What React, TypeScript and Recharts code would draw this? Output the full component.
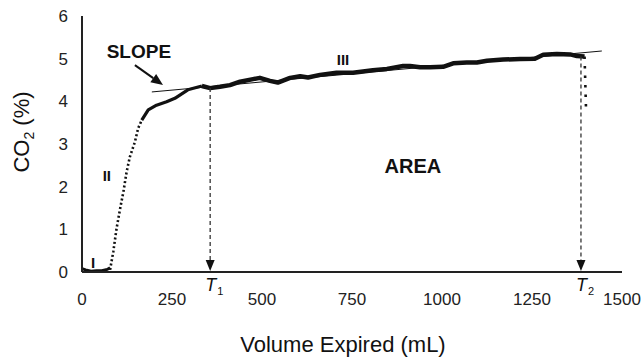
import React from 'react';
import { ComposedChart, Line, XAxis, YAxis, Label, ReferenceLine, ReferenceDot } from 'recharts';

// phase I (baseline)
const phaseOneVolume = [0, 10, 25, 40, 55, 70, 78];
const phaseOneCo2 = [0.08, 0.05, 0.02, 0.03, 0.03, 0.06, 0.1];

// phase II (fast rise, sparse points)
const phaseTwoVolume = [78, 87, 96, 106, 115, 124, 133, 147, 156, 166];
const phaseTwoCo2 = [0.05, 0.48, 1.02, 1.49, 1.88, 2.35, 2.7, 3.05, 3.37, 3.56];

// knee
const kneeVolume = [166, 184, 207, 235, 258, 294, 333];
const kneeCo2 = [3.56, 3.8, 3.91, 3.99, 4.07, 4.27, 4.36];

// phase III plateau
const phaseThreeVolume = [
  333, 356, 383, 411, 439, 475, 494, 522, 544, 578, 606, 628, 661, 707,
  753, 808, 847, 892, 911, 939, 967, 1003, 1031, 1069, 1097, 1125, 1170, 1217, 1258, 1281, 1319, 1356, 1375, 1396,
];
const phaseThreeCo2 = [
  4.36, 4.31, 4.34, 4.38, 4.46, 4.52, 4.55, 4.48, 4.44, 4.55, 4.59, 4.56, 4.62, 4.67,
  4.67, 4.73, 4.76, 4.83, 4.83, 4.8, 4.8, 4.81, 4.89, 4.91, 4.91, 4.95, 4.98, 4.99, 5.0, 5.09, 5.11, 5.1, 5.06, 5.05,
];

// end of expiration drop
const tailVolume = [1396, 1400];
const tailCo2 = [5.05, 3.84];

// phase III slope fit
const slopeVolume = [194, 1444];
const slopeCo2 = [4.22, 5.18];

// T1 / T2 markers
const markerVolume = [356, 1386];
const markerCo2 = [4.31, 5.05];
const markerSub = ['1', '2'];

const xTicks = [0, 250, 500, 750, 1000, 1250, 1500];
const yTicks = [0, 1, 2, 3, 4, 5, 6];

const toRows = (xs: number[], ys: number[]) => xs.map((v, i) => ({ v, c: ys[i] }));

const INK = '#111';
const FONT = '"Liberation Sans", Arial, sans-serif';

const SlopeArrow = (props: any) => {
  const { x1, y1, x2, y2 } = props;
  const a = Math.atan2(y2 - y1, x2 - x1);
  const len = 12;
  const half = 5;
  const bx = x2 - len * Math.cos(a);
  const by = y2 - len * Math.sin(a);
  const px = -Math.sin(a) * half;
  const py = Math.cos(a) * half;
  return (
    <g>
      <line x1={x1} y1={y1} x2={bx} y2={by} stroke={INK} strokeWidth={2} />
      <polygon points={`${x2},${y2} ${bx + px},${by + py} ${bx - px},${by - py}`} fill={INK} />
    </g>
  );
};

const timeArrow = (sub: string) => (props: any) => {
  const { x1, y1, x2, y2 } = props;
  return (
    <g>
      <line x1={x1} y1={y1} x2={x2} y2={y2 - 10} stroke="#333" strokeWidth={1.3} strokeDasharray="4 3" />
      <polygon points={`${x2},${y2 - 1} ${x2 - 4.5},${y2 - 12} ${x2 + 4.5},${y2 - 12}`} fill={INK} />
      <text x={x2 - 5} y={y2 + 19} fontSize={18} fontStyle="italic" fill={INK} fontFamily={FONT}>
        T<tspan fontSize={11} fontStyle="normal" dy={4} dx={1}>{sub}</tspan>
      </text>
    </g>
  );
};

const note = (text: string, size: number) => (props: any) => (
  <text
    x={props.cx}
    y={props.cy}
    textAnchor="middle"
    dominantBaseline="central"
    fontSize={size}
    fontWeight="bold"
    fill={INK}
    fontFamily={FONT}
  >
    {text}
  </text>
);

const YTitle = (props: any) => {
  const vb = props.viewBox;
  const x = vb.x + 7;
  const y = vb.y + vb.height / 2 - 12;
  return (
    <text x={x} y={y} transform={`rotate(-90, ${x}, ${y})`} textAnchor="middle" fontSize={22} fill={INK} fontFamily={FONT}>
      CO<tspan fontSize={14} dy={5}>2</tspan>
      <tspan dy={-5}> (%)</tspan>
    </text>
  );
};

export default function App() {
  const tickStyle = { fontSize: 17, fill: '#222', fontFamily: FONT };
  return (
    <div style={{ width: 641, height: 358, background: '#fff', fontFamily: FONT }}>
      <style>{'body{margin:0}'}</style>
      <ComposedChart width={641} height={358} margin={{ top: 16, right: 19, bottom: 6, left: 22 }}>
        <XAxis
          type="number"
          dataKey="v"
          domain={[0, 1500]}
          ticks={xTicks}
          tickLine={false}
          tickSize={0}
          tickMargin={21}
          tick={tickStyle}
          axisLine={{ stroke: '#222', strokeWidth: 2 }}
          height={80}
          allowDataOverflow
        >
          <Label value="Volume Expired (mL)" position="insideBottom" offset={0} dx={-9} fontSize={22} fill={INK} fontFamily={FONT} />
        </XAxis>
        <YAxis
          type="number"
          domain={[0, 6]}
          ticks={yTicks}
          tickLine={false}
          tickSize={0}
          tickMargin={14}
          tick={tickStyle}
          axisLine={{ stroke: '#222', strokeWidth: 2 }}
          width={60}
        >
          <Label content={YTitle} />
        </YAxis>

        <Line data={toRows(slopeVolume, slopeCo2)} dataKey="c" stroke={INK} strokeWidth={1} dot={false} isAnimationActive={false} />
        <Line data={toRows(phaseOneVolume, phaseOneCo2)} dataKey="c" stroke={INK} strokeWidth={3} dot={false} isAnimationActive={false} />
        <Line
          data={toRows(phaseTwoVolume, phaseTwoCo2)}
          dataKey="c"
          stroke={INK}
          strokeWidth={2.6}
          strokeDasharray="2 2.4"
          dot={false}
          isAnimationActive={false}
        />
        <Line
          data={toRows(kneeVolume, kneeCo2)}
          dataKey="c"
          stroke={INK}
          strokeWidth={3.2}
          strokeLinejoin="round"
          dot={false}
          isAnimationActive={false}
        />
        <Line
          data={toRows(phaseThreeVolume, phaseThreeCo2)}
          dataKey="c"
          stroke={INK}
          strokeWidth={4.5}
          strokeLinejoin="round"
          dot={false}
          isAnimationActive={false}
        />
        <Line
          data={toRows(tailVolume, tailCo2)}
          dataKey="c"
          stroke={INK}
          strokeWidth={2.6}
          strokeDasharray="2.5 7"
          dot={false}
          isAnimationActive={false}
        />

        {markerVolume.map((v, i) => (
          <ReferenceLine
            key={v}
            segment={[
              { x: v, y: markerCo2[i] },
              { x: v, y: 0 },
            ]}
            shape={timeArrow(markerSub[i])}
          />
        ))}

        <ReferenceLine
          segment={[
            { x: 147, y: 4.85 },
            { x: 225, y: 4.38 },
          ]}
          shape={SlopeArrow}
        />

        <ReferenceDot x={158} y={5.16} r={0} shape={note('SLOPE', 19)} />
        <ReferenceDot x={919} y={2.48} r={0} shape={note('AREA', 20)} />
        <ReferenceDot x={31} y={0.23} r={0} shape={note('I', 15)} />
        <ReferenceDot x={69} y={2.27} r={0} shape={note('II', 15)} />
        <ReferenceDot x={725} y={4.99} r={0} shape={note('III', 15)} />
      </ComposedChart>
    </div>
  );
}
